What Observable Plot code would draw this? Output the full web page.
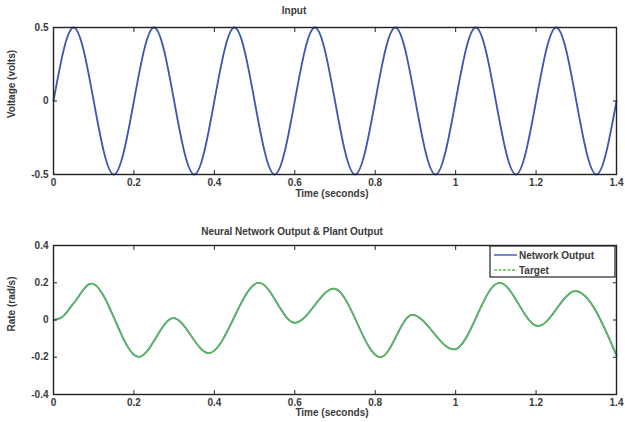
<!DOCTYPE html>
<html><head><meta charset="utf-8">
<script src="https://cdn.jsdelivr.net/npm/d3@7"></script>
<script src="https://cdn.jsdelivr.net/npm/@observablehq/plot@0.6"></script>
<style>
body{margin:0;background:#fff;width:625px;height:422px;position:relative;overflow:hidden;font-family:"Liberation Sans",Arial,sans-serif;}
.t{position:absolute;font-size:10px;font-weight:bold;color:#3a3a3a;white-space:nowrap;line-height:12px;}
</style></head><body>
<div id="topChart" style="position:absolute;left:0;top:0"></div>
<div id="botChart" style="position:absolute;left:0;top:218px"></div>
<div class="t" style="left:194px;top:5px;width:200px;text-align:center">Input</div>
<div class="t" style="left:232px;top:188px;width:200px;text-align:center">Time (seconds)</div>
<div class="t" style="left:-88px;top:78px;width:200px;text-align:center;transform:rotate(-90deg)">Voltage (volts)</div>
<div class="t" style="left:192px;top:226px;width:200px;text-align:center">Neural Network Output &amp; Plant Output</div>
<div class="t" style="left:232px;top:407px;width:200px;text-align:center">Time (seconds)</div>
<div class="t" style="left:-88px;top:298px;width:200px;text-align:center;transform:rotate(-90deg)">Rate (rad/s)</div>
<script>
// ---- data ----
const inputTime = [0, 0.05, 0.15, 0.25, 0.35, 0.45, 0.55, 0.65, 0.75, 0.85, 0.95, 1.05, 1.15, 1.25, 1.35, 1.4];
const inputVolt = [0, 0.5, -0.5, 0.5, -0.5, 0.5, -0.5, 0.5, -0.5, 0.5, -0.5, 0.5, -0.5, 0.5, -0.5, 0];

const rateTime   = [0, 0.02, 0.05, 0.094, 0.212, 0.298, 0.386, 0.511, 0.600, 0.697, 0.813, 0.892, 0.996, 1.109, 1.205, 1.298, 1.4];
const networkOut = [0, 0.013, 0.09, 0.196, -0.198, 0.01, -0.178, 0.2, -0.015, 0.168, -0.2, 0.027, -0.158, 0.2, -0.032, 0.155, -0.19];
const target     = [0, 0.013, 0.09, 0.196, -0.198, 0.01, -0.178, 0.2, -0.015, 0.168, -0.2, 0.027, -0.158, 0.2, -0.032, 0.155, -0.19];

const seriesNames = ["Network Output", "Target"];

const xTicks = [0, 0.2, 0.4, 0.6, 0.8, 1, 1.2, 1.4];
const xTickLabels = ["0", "0.2", "0.4", "0.6", "0.8", "1", "1.2", "1.4"];
const voltTicks = [-0.5, 0, 0.5];
const voltTickLabels = ["-0.5", "0", "0.5"];
const rateTicks = [-0.4, -0.2, 0, 0.2, 0.4];
const rateTickLabels = ["-0.4", "-0.2", "0", "0.2", "0.4"];

// ---- styling ----
const BLUE = "#3b56b3", GREEN = "#5cbf55", INK = "#222";
const style = {fontFamily: '"Liberation Sans", Arial, sans-serif', fontSize: "10px", fontWeight: "bold", color: "#3a3a3a", background: "white", overflow: "visible"};

function frameAxes(yTicks, yLabels) {
  const fx = d => xTickLabels[xTicks.indexOf(d)];
  const fy = d => yLabels[yTicks.indexOf(d)];
  return [
    Plot.axisX({anchor: "bottom", ticks: xTicks, tickSize: 0, tickPadding: 4, tickFormat: fx, label: null}),
    Plot.axisX({anchor: "bottom", ticks: xTicks, tickSize: -4, fill: "none", stroke: INK, label: null}),
    Plot.axisX({anchor: "top", ticks: xTicks, tickSize: -4, fill: "none", stroke: INK, label: null}),
    Plot.axisY({anchor: "left", ticks: yTicks, tickSize: 0, tickPadding: 5, tickFormat: fy, label: null}),
    Plot.axisY({anchor: "left", ticks: yTicks, tickSize: -4, fill: "none", stroke: INK, label: null}),
    Plot.axisY({anchor: "right", ticks: yTicks, tickSize: -4, fill: "none", stroke: INK, label: null}),
  ];
}

const inputData = inputTime.map((t, i) => ({t, v: inputVolt[i]}));
const topPlot = Plot.plot({
  width: 625, height: 200,
  marginLeft: 53, marginRight: 9, marginTop: 27, marginBottom: 26,
  style,
  x: {domain: [0, 1.4]},
  y: {domain: [-0.5, 0.5]},
  marks: [
    Plot.line(inputData, {x: "t", y: "v", stroke: BLUE, strokeWidth: 1.8, curve: "monotone-x"}),
    ...frameAxes(voltTicks, voltTickLabels),
    Plot.frame({stroke: INK, strokeWidth: 1.4})
  ]
});
document.getElementById("topChart").append(topPlot);

const netData = rateTime.map((t, i) => ({t, v: networkOut[i]}));
const tgtData = rateTime.map((t, i) => ({t, v: target[i]}));
const botPlot = Plot.plot({
  width: 625, height: 204,
  marginLeft: 53, marginRight: 9, marginTop: 27, marginBottom: 28,
  style,
  x: {domain: [0, 1.4]},
  y: {domain: [-0.4, 0.4]},
  marks: [
    Plot.line(netData, {x: "t", y: "v", stroke: BLUE, strokeWidth: 1.7, curve: "monotone-x"}),
    Plot.line(tgtData, {x: "t", y: "v", stroke: GREEN, strokeWidth: 1.7, strokeDasharray: "4,1.5", curve: "monotone-x"}),
    ...frameAxes(rateTicks, rateTickLabels),
    Plot.frame({stroke: INK, strokeWidth: 1.4})
  ]
});
document.getElementById("botChart").append(botPlot);

// legend box (inside bottom plot, top-right)
const lg = d3.select(botPlot).append("g").attr("transform", "translate(490,28)").attr("text-anchor", "start");
lg.append("rect").attr("width", 125).attr("height", 31).attr("fill", "white").attr("stroke", INK).attr("stroke-width", 1.2);
const colors = [BLUE, GREEN], dashes = [null, "3,1.5"];
seriesNames.forEach((name, i) => {
  const y = 9 + i * 15;
  lg.append("line").attr("x1", 4).attr("x2", 27).attr("y1", y).attr("y2", y)
    .attr("stroke", colors[i]).attr("stroke-width", 1.4).attr("stroke-dasharray", dashes[i]);
  lg.append("text").attr("x", 29).attr("y", y).attr("dy", "0.35em").attr("fill", "#3a3a3a").text(name);
});
</script>
</body></html>
